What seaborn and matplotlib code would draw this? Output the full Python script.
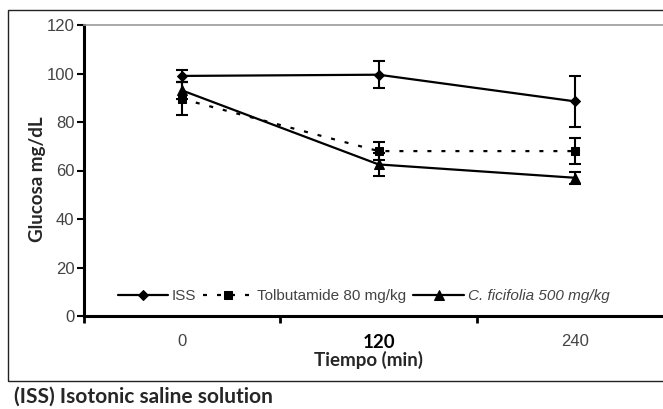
import numpy as np
import pandas as pd
import matplotlib
matplotlib.use("Agg")
import matplotlib.pyplot as plt
import seaborn as sns
from matplotlib.patches import Rectangle
from matplotlib.ticker import FixedLocator

# --- Datos ---
tiempos = ["0", "120", "240"]
iss_media = [99.0, 99.5, 88.5]
iss_err = [2.5, 5.5, 10.5]
tolb_media = [89.5, 68.0, 68.0]
tolb_err = [6.8, 3.7, 5.2]
cfic_media = [93.0, 62.5, 57.0]
cfic_err = [3.5, 4.8, 2.5]
grupos = ["ISS", "Tolbutamide 80 mg/kg", "C. ficifolia 500 mg/kg"]

pos = np.arange(len(tiempos))
df = pd.DataFrame({
    "pos": np.tile(pos, 3),
    "glucosa": iss_media + tolb_media + cfic_media,
    "err": iss_err + tolb_err + cfic_err,
    "grupo": np.repeat(grupos, len(tiempos)),
})

sns.set_theme(style="white")
plt.rcParams["font.family"] = ["Liberation Sans", "DejaVu Sans"]

fig = plt.figure(figsize=(6.63, 4.09), dpi=100)
W, H = 663, 409
ax = fig.add_axes([84 / W, 1 - 316 / H, (663 - 84) / W, (316 - 25) / H])

estilos = {
    "ISS": dict(marker="D", markersize=5, linestyle="-"),
    "Tolbutamide 80 mg/kg": dict(marker="s", markersize=6, linestyle=(0, (1.8, 4.5))),
    "C. ficifolia 500 mg/kg": dict(marker="^", markersize=7, linestyle="-"),
}

for g in grupos:
    sub = df[df["grupo"] == g]
    sns.lineplot(data=sub, x="pos", y="glucosa", ax=ax, color="black",
                 linewidth=1.6, label=g, markeredgecolor="black", **estilos[g])
    ax.errorbar(sub["pos"], sub["glucosa"], yerr=sub["err"], fmt="none",
                ecolor="black", elinewidth=1.5, capsize=4, capthick=1.5)

ax.set_xlim(-0.5, (663 - 182) / 196.5)
ax.set_ylim(0, 120)
ax.set_yticks(np.arange(0, 121, 20))
ax.set_xticks(pos)
ax.set_xticklabels(tiempos)
ax.xaxis.set_minor_locator(FixedLocator([-0.5, 0.5, 1.5]))
ax.tick_params(axis="x", which="major", length=0, pad=13, labelsize=12, labelcolor="#444444")
ax.tick_params(axis="x", which="minor", bottom=True, length=5, width=2, color="black", direction="out")
ax.tick_params(axis="y", left=True, length=5, width=1.5, color="black", pad=2,
               labelsize=12, labelcolor="#444444")
lbl = ax.get_xticklabels()[1]
lbl.set_fontweight("bold")
lbl.set_fontfamily("Lato")
lbl.set_color("black")
lbl.set_fontsize(13.5)

ax.set_xlabel("")
ax.set_ylabel("")
for s in ["left", "bottom"]:
    ax.spines[s].set_linewidth(2.2)
    ax.spines[s].set_color("black")
ax.spines["top"].set_color("#999999")
ax.spines["top"].set_linewidth(1.2)
ax.spines["right"].set_visible(False)

leg = ax.legend(loc="center left", bbox_to_anchor=(0.058, 0.069), ncol=3, frameon=False,
                handlelength=3.3, handletextpad=0.25, columnspacing=0.45, fontsize=11,
                borderpad=0, borderaxespad=0)
for t in leg.get_texts():
    t.set_color("#444444")
leg.get_texts()[2].set_fontstyle("italic")

fig.text(37 / W, 1 - 179 / H, "Glucosa mg/dL", rotation=90, ha="center", va="center",
         fontsize=13.5, fontweight="bold", family="Lato")
fig.text(368 / W, 1 - 360 / H, "Tiempo (min)", ha="center", va="center",
         fontsize=13.5, fontweight="bold", family="Lato")
fig.text(14 / W, 1 - 397 / H, "(ISS) Isotonic saline solution", ha="left", va="center",
         fontsize=15, fontweight="bold", family="Lato")

fig.patches.append(Rectangle((8 / W, 1 - 381 / H), 1.0, (381 - 10) / H,
                             transform=fig.transFigure, fill=False,
                             edgecolor="#222222", linewidth=1.0))

fig.savefig("out.png", dpi=100)
